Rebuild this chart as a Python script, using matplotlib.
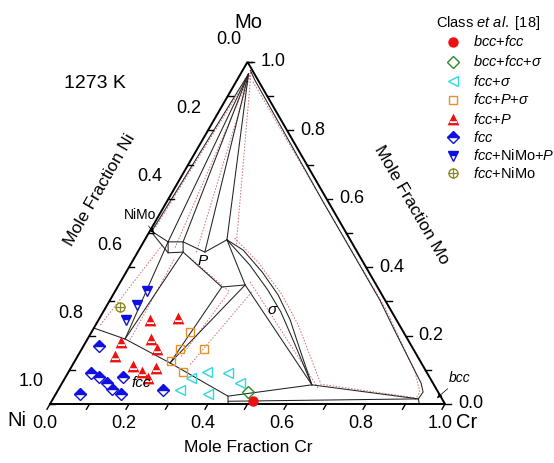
import numpy as np
import matplotlib
matplotlib.use("Agg")
import matplotlib.pyplot as plt
from matplotlib.path import Path

plt.rcParams["font.family"] = ["Liberation Sans", "DejaVu Sans"]
plt.rcParams["mathtext.fontset"] = "custom"
plt.rcParams["mathtext.rm"] = "Liberation Sans"
plt.rcParams["mathtext.it"] = "Liberation Sans:italic"

# ---------------- calculated boundaries, points are (x_Cr, x_Mo) ----------------
fan_origin = (0.02, 0.965)
fan_ends = [(0.005, 0.505), (0.062, 0.474), (0.100, 0.474), (0.170, 0.444), (0.208, 0.480)]

fcc_boundary = [(0.0, 0.222), (0.095, 0.190), (0.244, 0.120), (0.439, 0.023), (0.451, 0.0)]
p_box = [(0.062, 0.474), (0.100, 0.474), (0.115, 0.444), (0.078, 0.442), (0.062, 0.474)]
tie_lines = [
    [(0.005, 0.505), (0.062, 0.474)],
    [(0.012, 0.497), (0.078, 0.442)],
    [(0.100, 0.474), (0.170, 0.444), (0.208, 0.480)],
    [(0.115, 0.444), (0.264, 0.342), (0.320, 0.348), (0.208, 0.480)],
    [(0.095, 0.190), (0.062, 0.474)],
    [(0.095, 0.190), (0.115, 0.444)],
    [(0.244, 0.120), (0.264, 0.342)],
    [(0.244, 0.120), (0.320, 0.348)],
    [(0.320, 0.348), (0.635, 0.056)],
    [(0.439, 0.023), (0.635, 0.056), (0.925, 0.015)],
    [(0.447, 0.008), (0.925, 0.015)],
]
sigma_a = [(0.208, 0.480), (0.303, 0.406), (0.385, 0.333), (0.450, 0.269), (0.534, 0.173), (0.635, 0.056)]
sigma_b = [(0.208, 0.480), (0.264, 0.450), (0.344, 0.386), (0.418, 0.319), (0.485, 0.246),
           (0.554, 0.158), (0.635, 0.056)]
bcc_boundary = [(0.02, 0.975), (0.045, 0.947), (0.189, 0.801), (0.391, 0.596), (0.683, 0.304),
                (0.777, 0.202), (0.865, 0.108), (0.909, 0.061), (0.927, 0.035), (0.925, 0.015),
                (0.935, 0.0)]

# second (dotted) calculation
dotted_lines = [
    [(0.024, 0.970), (0.009, 0.515)],
    [(0.024, 0.970), (0.088, 0.456)],
    [(0.024, 0.970), (0.149, 0.442)],
    [(0.024, 0.970), (0.239, 0.465)],
    [(0.012, 0.231), (0.052, 0.465)],
    [(0.109, 0.187), (0.103, 0.427)],
    [(0.141, 0.427), (0.292, 0.327)],
    [(0.289, 0.325), (0.262, 0.135)],
    [(0.347, 0.327), (0.297, 0.114)],
    [(0.328, 0.357), (0.655, 0.047)],
    [(0.225, 0.485), (0.319, 0.415), (0.428, 0.319), (0.513, 0.231), (0.652, 0.064)],
    [(0.043, 0.942), (0.405, 0.582), (0.708, 0.281), (0.877, 0.094), (0.919, 0.035), (0.918, 0.012)],
    [(0.655, 0.058), (0.915, 0.018)],
]

# ---------------- Class et al. [18] samples (x_Cr, x_Mo) ----------------
bcc_fcc = [(0.51, 0.01)]
bcc_fcc_sigma = [(0.485, 0.035)]
fcc_sigma = [(0.35, 0.095), (0.405, 0.09), (0.32, 0.075), (0.45, 0.06), (0.31, 0.04), (0.385, 0.03)]
fcc_p_sigma = [(0.25, 0.21), (0.25, 0.16), (0.31, 0.16), (0.245, 0.125), (0.29, 0.095)]
fcc_p = [(0.13, 0.245), (0.20, 0.25), (0.16, 0.19), (0.09, 0.18), (0.19, 0.16),
         (0.095, 0.14), (0.155, 0.11), (0.185, 0.095), (0.215, 0.105), (0.21, 0.075)]
fcc_only = [(0.06, 0.03), (0.06, 0.09), (0.085, 0.08), (0.04, 0.17), (0.115, 0.06),
            (0.135, 0.045), (0.165, 0.03), (0.145, 0.08), (0.265, 0.04)]
fcc_nimo_p = [(0.08, 0.33), (0.075, 0.29), (0.07, 0.245)]
fcc_nimo = [(0.035, 0.285)]

legend_labels = [r"$\mathit{bcc}$+$\mathit{fcc}$", r"$\mathit{bcc}$+$\mathit{fcc}$+$\mathit{σ}$",
                 r"$\mathit{fcc}$+$\mathit{σ}$", r"$\mathit{fcc}$+$\mathit{P}$+$\mathit{σ}$",
                 r"$\mathit{fcc}$+$\mathit{P}$", r"$\mathit{fcc}$", r"$\mathit{fcc}$+NiMo+$\mathit{P}$",
                 r"$\mathit{fcc}$+NiMo"]

H = np.sqrt(3) / 2
U = 1 / 395  # one pixel in triangle units


def tern(pts):
    a = np.asarray(pts, dtype=float)
    return a[:, 0] + a[:, 1] / 2, a[:, 1] * H


def pix(px, py):
    return (px - 50) * U, (404 - py) * U


fig = plt.figure(figsize=(5.54, 4.63), dpi=100)
ax = fig.add_axes([0, 0, 1, 1])
ax.set_xlim(-50 * U, 504 * U)
ax.set_ylim(-59 * U, 404 * U)
ax.axis("off")

# dotted set first, solid on top
for ln in dotted_lines:
    x, y = tern(ln)
    ax.plot(x, y, color="#d47070", lw=0.7, ls=(0, (1.6, 1.6)))

solid_kw = dict(color="#222222", lw=0.75)
for end in fan_ends:
    x, y = tern([fan_origin, end])
    ax.plot(x, y, **solid_kw)
for ln in [fcc_boundary, p_box, sigma_a, sigma_b, bcc_boundary] + tie_lines:
    x, y = tern(ln)
    ax.plot(x, y, **solid_kw)

# frame
x, y = tern([(0, 0), (1, 0), (0, 1), (0, 0)])
ax.plot(x, y, color="k", lw=1.4, solid_joinstyle="miter")

ticks = np.round(np.arange(0, 1.01, 0.1), 1)
for v in ticks:
    ax.plot([v, v - 3 * U], [0, -5.2 * U], color="k", lw=1)
    lx, ly = 0.5 * (1 - v), H * (1 - v)
    ax.plot([lx, lx + 5 * U], [ly, ly], color="k", lw=1)
    rx, ry = 1 - 0.5 * v, H * v
    ax.plot([rx, rx + 6 * U], [ry, ry], color="k", lw=1)
for v in ticks[::2]:
    s = f"{v:.1f}"
    ax.text(v - 5 * U, -20 * U, s, ha="center", va="center", fontsize=13)
    ax.text(0.5 * (1 - v) - 19 * U, H * (1 - v) + 22 * U, s, ha="center", va="center", fontsize=13)
    ax.text(1 - 0.5 * v + 13 * U, H * v, s, ha="left", va="center", fontsize=13)

ax.text(*pix(248, 22), "Mo", ha="center", va="center", fontsize=14.5)
ax.text(*pix(17, 421), "Ni", ha="center", va="center", fontsize=14.5)
ax.text(*pix(467, 423), "Cr", ha="center", va="center", fontsize=14.5)
ax.text(*pix(248, 447), "Mole Fraction Cr", ha="center", va="center", fontsize=12.5)
ax.text(*pix(100, 190), "Mole Fraction Ni", ha="center", va="center", fontsize=12.5, rotation=60)
ax.text(*pix(411, 205), "Mole Fraction Mo", ha="center", va="center", fontsize=12.5, rotation=-60)
ax.text(*pix(95, 83), "1273 K", ha="center", va="center", fontsize=14)

ax.text(*pix(141, 383), "fcc", ha="center", va="center", fontsize=11, style="italic")
ax.text(*pix(203, 261), "P", ha="center", va="center", fontsize=11, style="italic")
ax.text(*pix(272, 310), "σ", ha="center", va="center", fontsize=11, style="italic")
arrow = dict(arrowstyle="-|>", color="k", lw=0.5, mutation_scale=7, shrinkA=1, shrinkB=0)
ax.annotate("NiMo", xy=pix(154, 233), xytext=pix(140, 215), ha="center", va="center",
            fontsize=10, arrowprops=arrow)
ax.annotate("bcc", xy=pix(437, 398), xytext=pix(460, 378), ha="center", va="center",
            fontsize=10, style="italic", arrowprops=arrow)

# red triangle with a white band
band_tri = Path([(0, 1), (-1, -1), (1, -1), (0, 1),
                 (-0.6, -0.3), (0.6, -0.3), (0.6, -0.6), (-0.6, -0.6), (-0.6, -0.3)],
                [Path.MOVETO, Path.LINETO, Path.LINETO, Path.CLOSEPOLY,
                 Path.MOVETO, Path.LINETO, Path.LINETO, Path.LINETO, Path.CLOSEPOLY])

styles = [
    dict(marker="o", ms=6.5, mfc="#ee1111", mec="#ee1111"),
    dict(marker="D", ms=6, mfc="none", mec="#2a8a2a", mew=1),
    dict(marker="<", ms=7, mfc="none", mec="#2fd8dc", mew=1),
    dict(marker="s", ms=6, mfc="none", mec="#e8902a", mew=1),
    dict(marker=band_tri, ms=8.5, mfc="#ee1111", mew=0),
    dict(marker="D", ms=6.5, mfc="#1010e0", mec="#1010e0", mew=1, fillstyle="top",
         markerfacecoloralt="white"),
    dict(marker="v", ms=7.5, mfc="#1010e0", mec="#1010e0", mew=1, fillstyle="top",
         markerfacecoloralt="white"),
    dict(marker="o", ms=6.5, mfc="none", mec="#8a8a1e", mew=1),
]
groups = [bcc_fcc, bcc_fcc_sigma, fcc_sigma, fcc_p_sigma, fcc_p, fcc_only, fcc_nimo_p, fcc_nimo]

for pts, st in zip(groups, styles):
    x, y = tern(pts)
    ax.plot(x, y, ls="none", **st)
x, y = tern(fcc_nimo)
ax.plot(x, y, ls="none", marker="+", ms=6.5, mec="#8a8a1e", mew=0.9)

# legend
lx, ly = pix(436, 23)
ax.text(lx, ly, r"Class $\mathit{et\ al.}$ [18]", ha="left", va="center", fontsize=10.5)
rows = [42, 62, 81, 100, 119, 137, 156, 173]
for row, st, lab in zip(rows, styles, legend_labels):
    mx, my = pix(453, row)
    ax.plot([mx], [my], ls="none", **st)
    tx, ty = pix(473, row)
    ax.text(tx, ty, lab, ha="left", va="center", fontsize=10.5)
mx, my = pix(453, rows[-1])
ax.plot([mx], [my], ls="none", marker="+", ms=6.5, mec="#8a8a1e", mew=0.9)

fig.savefig("out.png", dpi=100)
